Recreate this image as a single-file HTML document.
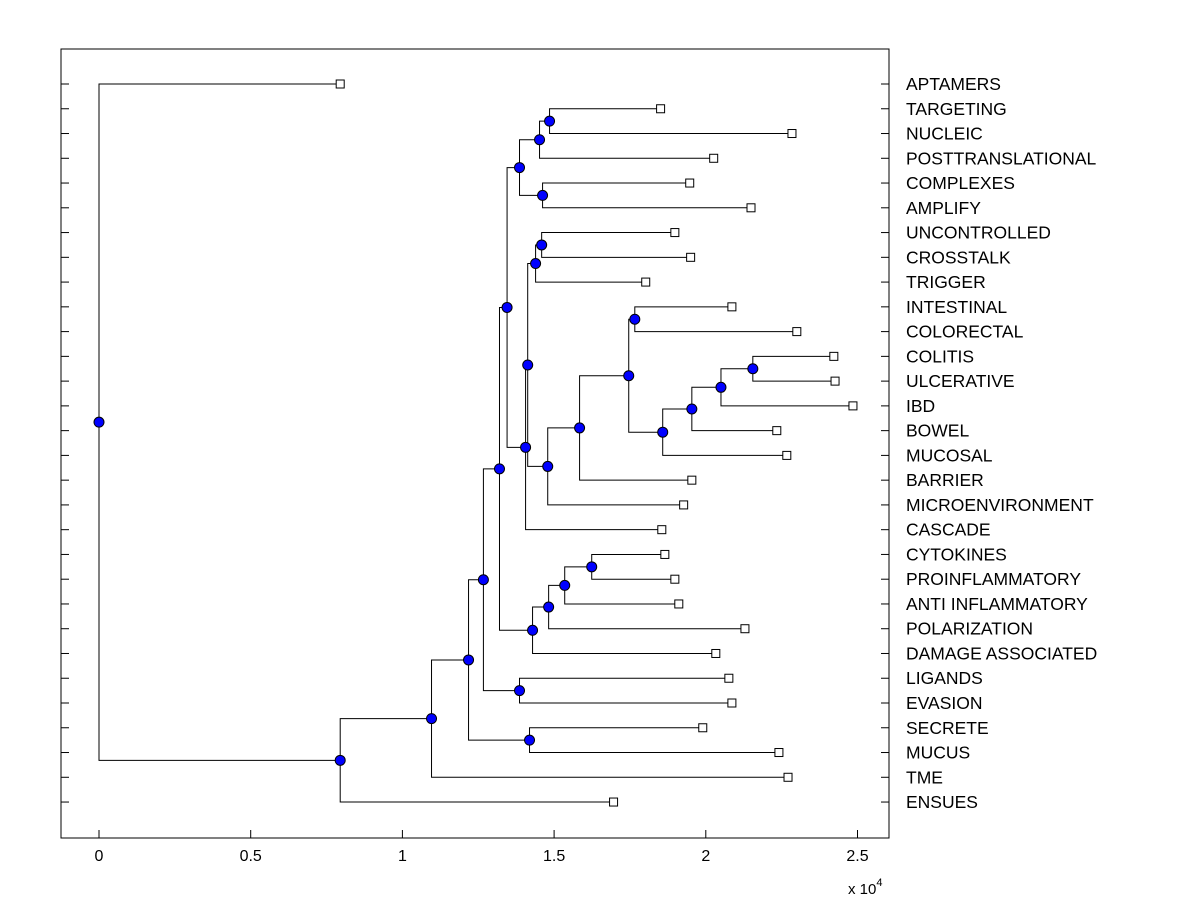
<!DOCTYPE html>
<html><head><meta charset="utf-8"><style>
html,body{margin:0;padding:0;background:#fff;}
svg{display:block;font-family:"Liberation Sans",Arial,sans-serif;}
</style></head><body>
<svg id="chart" width="1200" height="900" viewBox="0 0 1200 900">
<rect x="0" y="0" width="1200" height="900" fill="#fff"/>
</svg>
<script>
// Leaf labels (top to bottom) and leaf heights (x, in units of 1e4)
const leafLabels = ["APTAMERS","TARGETING","NUCLEIC","POSTTRANSLATIONAL","COMPLEXES","AMPLIFY","UNCONTROLLED","CROSSTALK","TRIGGER","INTESTINAL","COLORECTAL","COLITIS","ULCERATIVE","IBD","BOWEL","MUCOSAL","BARRIER","MICROENVIRONMENT","CASCADE","CYTOKINES","PROINFLAMMATORY","ANTI INFLAMMATORY","POLARIZATION","DAMAGE ASSOCIATED","LIGANDS","EVASION","SECRETE","MUCUS","TME","ENSUES"];
const leafValues = [0.795,1.851,2.284,2.026,1.947,2.149,1.898,1.950,1.802,2.086,2.300,2.422,2.426,2.485,2.234,2.267,1.954,1.927,1.855,1.865,1.898,1.911,2.129,2.033,2.076,2.086,1.990,2.241,2.271,1.696];
// Internal nodes: name, height, children (leaf labels or node names)
const nodeNames = ["root","A","B","C","D","E","F","G","H","I","J","K","L","M","N","O","P","Q","R","S","T","U","V","W","X","Y","Z","AA","BB"];
const nodeValues = [0,0.795,1.096,1.218,1.267,1.419,1.320,1.386,1.345,1.429,1.482,1.535,1.624,1.386,1.406,1.452,1.462,1.485,1.439,1.413,1.479,1.459,1.584,1.746,1.766,1.858,1.954,2.050,2.155];
const nodeChildren = [["APTAMERS","A"],["B","ENSUES"],["C","TME"],["D","E"],["F","G"],["SECRETE","MUCUS"],["H","I"],["LIGANDS","EVASION"],["M","N"],["J","DAMAGE ASSOCIATED"],["K","POLARIZATION"],["L","ANTI INFLAMMATORY"],["CYTOKINES","PROINFLAMMATORY"],["O","P"],["S","CASCADE"],["Q","POSTTRANSLATIONAL"],["COMPLEXES","AMPLIFY"],["TARGETING","NUCLEIC"],["U","TRIGGER"],["R","T"],["V","MICROENVIRONMENT"],["UNCONTROLLED","CROSSTALK"],["W","BARRIER"],["X","Y"],["INTESTINAL","COLORECTAL"],["Z","MUCOSAL"],["AA","BOWEL"],["BB","IBD"],["COLITIS","ULCERATIVE"]];
const xTicks = [0,0.5,1,1.5,2,2.5];
const xTickLabels = ["0","0.5","1","1.5","2","2.5"];

const NS="http://www.w3.org/2000/svg";
const svg=document.getElementById('chart');
const L=61,R=889,T=49,B=838;
const xs=v=>99+v*303.4;
const ys=i=>84+i*24.76;
function mk(tag,attrs,parent){const e=document.createElementNS(NS,tag);for(const k in attrs)e.setAttribute(k,attrs[k]);(parent||svg).appendChild(e);return e;}

const ax=mk('rect',{x:L,y:T,width:R-L,height:B-T,fill:'none',stroke:'#000','stroke-width':1});



xTicks.forEach((t,i)=>{
  const ln=mk('line',{x1:xs(t),x2:xs(t),y1:B,y2:B-8,stroke:'#000'});
  
  
  const tx=mk('text',{x:xs(t),y:B+23,'text-anchor':'middle','font-size':16});
  tx.textContent=xTickLabels[i];
  
  
});
const ex=mk('text',{x:848,y:894,'font-size':15});
ex.innerHTML='x 10<tspan dy="-8" font-size="11">4</tspan>';



const pos={};
leafLabels.forEach((n,i)=>{
  pos[n]={x:xs(leafValues[i]),y:ys(i)};
  const t1=mk('line',{x1:L,x2:L+8,y1:ys(i),y2:ys(i),stroke:'#000'});
  
  
  const t2=mk('line',{x1:R-8,x2:R,y1:ys(i),y2:ys(i),stroke:'#000'});
  
  
  const tx=mk('text',{x:906,y:ys(i)+6,'font-size':17.5});
  tx.textContent=n;
  
  
});
const idx={};nodeNames.forEach((n,i)=>idx[n]=i);
function getY(n){
  if(pos[n])return pos[n].y;
  const c=nodeChildren[idx[n]];
  const y=(getY(c[0])+getY(c[1]))/2;
  pos[n]={x:xs(nodeValues[idx[n]]),y:y};
  return y;
}
getY('root');
nodeNames.forEach(n=>{
  const p=pos[n],c=nodeChildren[idx[n]];
  const a=pos[c[0]],b=pos[c[1]];
  const path=mk('path',{d:`M${a.x},${a.y}H${p.x}V${b.y}H${b.x}`,fill:'none',stroke:'#000','stroke-width':1});
  
  
});
leafLabels.forEach(n=>{
  const r=mk('rect',{x:pos[n].x-4,y:pos[n].y-4,width:8,height:8,fill:'#fff',stroke:'#000'});
  
  
});
nodeNames.forEach(n=>{
  const c=mk('circle',{cx:pos[n].x,cy:pos[n].y,r:5,fill:'#0000ff',stroke:'#000'});
  
  
});
</script>
</body></html>
